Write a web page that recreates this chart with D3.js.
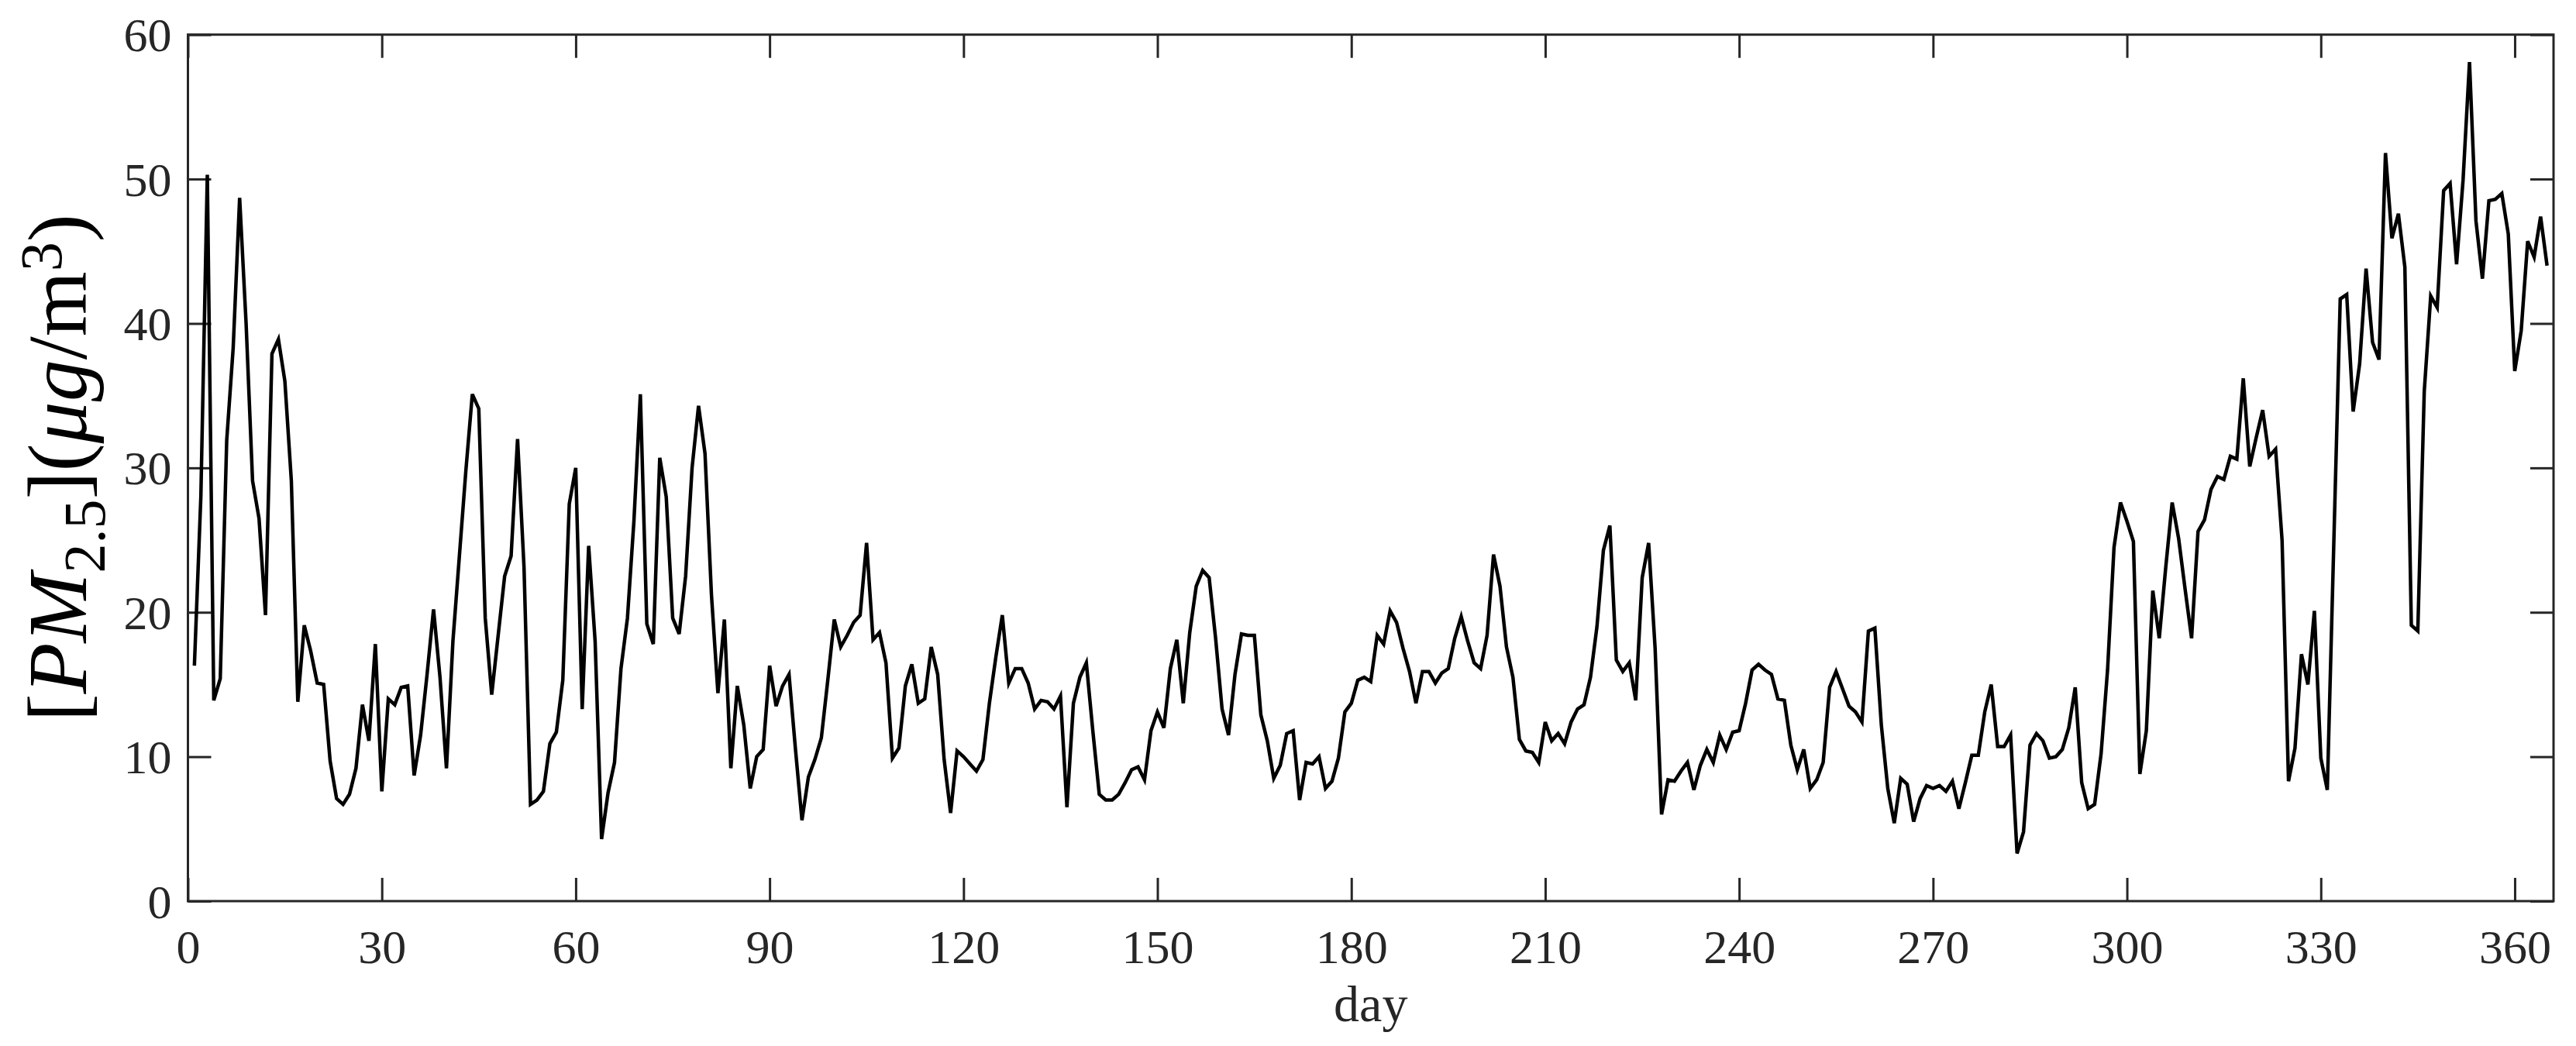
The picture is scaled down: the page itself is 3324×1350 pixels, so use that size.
<!DOCTYPE html>
<html>
<head>
<meta charset="utf-8">
<script src="https://cdn.jsdelivr.net/npm/d3@7"></script>
<style>
  body { margin: 0; background: #fff; }
  svg { display: block; }
</style>
</head>
<body>
<svg id="chart"></svg>
<script>
// daily PM2.5 values, day 1 .. day 365
const pm25 = [
  16.3, 28.0, 50.3, 13.9, 15.4, 31.9, 38.3, 48.7, 40.0, 29.1,
  26.5, 19.8, 37.9, 38.9, 36.0, 29.1, 13.8, 19.1, 17.3, 15.1,
  15.0, 9.7, 7.1, 6.7, 7.4, 9.2, 13.6, 11.1, 17.8, 7.6,
  14.0, 13.6, 14.8, 14.9, 8.7, 11.5, 15.7, 20.2, 15.5, 9.2,
  18.0, 23.9, 29.8, 35.1, 34.1, 19.6, 14.3, 18.4, 22.5, 23.9,
  32.0, 23.1, 6.7, 7.0, 7.6, 10.9, 11.7, 15.3, 27.5, 30.0,
  13.3, 24.6, 18.0, 4.3, 7.5, 9.6, 16.1, 19.6, 26.3, 35.1,
  19.2, 17.8, 30.7, 28.0, 19.6, 18.5, 22.5, 30.0, 34.3, 31.0,
  21.2, 14.4, 19.5, 9.2, 14.9, 12.2, 7.8, 10.0, 10.5, 16.3,
  13.5, 14.9, 15.7, 10.5, 5.6, 8.6, 9.8, 11.3, 15.3, 19.5,
  17.6, 18.4, 19.3, 19.8, 24.8, 18.1, 18.6, 16.5, 9.9, 10.6,
  14.9, 16.4, 13.7, 14.0, 17.6, 15.7, 9.8, 6.1, 10.4, 10.0,
  9.5, 9.0, 9.8, 13.7, 16.9, 19.8, 15.1, 16.1, 16.1, 15.1,
  13.3, 13.9, 13.8, 13.3, 14.2, 6.5, 13.7, 15.5, 16.5, 11.8,
  7.4, 7.0, 7.0, 7.4, 8.2, 9.1, 9.3, 8.4, 11.8, 13.1,
  12.0, 16.1, 18.1, 13.7, 18.6, 21.8, 22.9, 22.4, 18.2, 13.3,
  11.5, 15.7, 18.5, 18.4, 18.4, 12.9, 11.1, 8.5, 9.4, 11.6,
  11.8, 7.0, 9.6, 9.5, 10.0, 7.8, 8.3, 9.9, 13.1, 13.7,
  15.3, 15.5, 15.2, 18.4, 17.8, 20.1, 19.3, 17.5, 15.9, 13.7,
  15.9, 15.9, 15.1, 15.8, 16.1, 18.2, 19.7, 18.0, 16.5, 16.1,
  18.4, 24.0, 21.8, 17.6, 15.5, 11.2, 10.4, 10.3, 9.6, 12.4,
  11.1, 11.6, 10.9, 12.4, 13.3, 13.6, 15.5, 19.0, 24.3, 26.0,
  16.7, 15.9, 16.5, 13.9, 22.4, 24.8, 17.5, 6.0, 8.4, 8.3,
  9.0, 9.6, 7.7, 9.4, 10.5, 9.6, 11.5, 10.5, 11.7, 11.8,
  13.7, 16.0, 16.4, 16.0, 15.7, 14.0, 13.9, 10.8, 9.1, 10.5,
  7.8, 8.4, 9.6, 14.8, 15.9, 14.7, 13.5, 13.1, 12.4, 18.7,
  18.9, 12.2, 7.8, 5.4, 8.5, 8.1, 5.5, 7.1, 8.0, 7.8,
  8.0, 7.6, 8.3, 6.4, 8.2, 10.1, 10.1, 13.1, 15.0, 10.7,
  10.7, 11.5, 3.3, 4.8, 10.8, 11.6, 11.1, 9.9, 10.0, 10.5,
  12.0, 14.8, 8.2, 6.4, 6.7, 10.2, 16.0, 24.5, 27.6, 26.3,
  24.9, 8.8, 11.8, 21.5, 18.2, 23.1, 27.6, 25.1, 21.6, 18.2,
  25.6, 26.4, 28.5, 29.4, 29.2, 30.8, 30.6, 36.2, 30.1, 32.1,
  34.0, 30.8, 31.3, 25.0, 8.3, 10.6, 17.1, 15.0, 20.1, 9.9,
  7.7, 24.7, 41.7, 42.0, 33.9, 37.2, 43.8, 38.7, 37.5, 51.8,
  45.9, 47.6, 43.9, 19.1, 18.7, 35.3, 41.9, 41.1, 49.2, 49.7,
  44.1, 49.9, 58.1, 47.1, 43.1, 48.5, 48.6, 49.0, 46.2, 36.7,
  39.5, 45.7, 44.6, 47.4, 44.0
];
const days = pm25.map((v, i) => i + 1);

const xTicks = [0, 30, 60, 90, 120, 150, 180, 210, 240, 270, 300, 330, 360];
const yTicks = [0, 10, 20, 30, 40, 50, 60];
const xDomain = [0, 366];
const yDomain = [0, 60];

const width = 3324,
      height = 1350,
      plotLeft = 242.5,
      plotRight = 3295,
      plotTop = 44.7,
      plotBottom = 1163,
      axisColor = "#262626",
      font = "'Liberation Serif', 'Times New Roman', serif";

const svg = d3.select("#chart")
    .attr("width", width)
    .attr("height", height)
    .style("font-family", font);

const x = d3.scaleLinear().domain(xDomain).range([plotLeft, plotRight]);
const y = d3.scaleLinear().domain(yDomain).range([plotBottom, plotTop]);

// ticks point inwards on all four sides (matlab box style)
const tickLen = 30;

const gx = svg.append("g")
    .attr("transform", `translate(0,${plotBottom})`)
    .call(d3.axisBottom(x).tickValues(xTicks).tickSize(-tickLen).tickPadding(38));
svg.append("g")
    .attr("transform", `translate(0,${plotTop})`)
    .call(d3.axisTop(x).tickValues(xTicks).tickSize(-tickLen).tickFormat(""));
const gy = svg.append("g")
    .attr("transform", `translate(${plotLeft},0)`)
    .call(d3.axisLeft(y).tickValues(yTicks).tickSize(-tickLen).tickPadding(21));
svg.append("g")
    .attr("transform", `translate(${plotRight},0)`)
    .call(d3.axisRight(y).tickValues(yTicks).tickSize(-tickLen).tickFormat(""));

svg.selectAll(".domain").remove();
svg.selectAll(".tick line")
    .attr("stroke", axisColor)
    .attr("stroke-width", 3);
svg.selectAll(".tick text")
    .attr("fill", axisColor)
    .style("font-family", font)
    .style("font-size", "62px");
gy.selectAll(".tick text").attr("dy", "0.34em");
gx.selectAll(".tick text").attr("dy", "0.68em");

const line = d3.line()
    .x((d, i) => x(days[i]))
    .y((d) => y(d));

svg.append("path")
    .datum(pm25)
    .attr("fill", "none")
    .attr("stroke", "#000")
    .attr("stroke-width", 4.5)
    .attr("stroke-linejoin", "miter")
    .attr("d", line);

// axes box
svg.append("rect")
    .attr("x", plotLeft)
    .attr("y", plotTop)
    .attr("width", plotRight - plotLeft)
    .attr("height", plotBottom - plotTop)
    .attr("fill", "none")
    .attr("stroke", axisColor)
    .attr("stroke-width", 3);

svg.append("text")
    .attr("x", (plotLeft + plotRight) / 2)
    .attr("y", 1318)
    .attr("text-anchor", "middle")
    .attr("fill", axisColor)
    .style("font-size", "66px")
    .text("day");

// [PM_2.5](μg/m^3)
const ylab = svg.append("text")
    .attr("transform", `translate(111,${(plotTop + plotBottom) / 2}) rotate(-90)`)
    .attr("text-anchor", "middle")
    .attr("fill", "#000")
    .style("font-size", "108px");
ylab.append("tspan").text("[");
ylab.append("tspan").style("font-style", "italic").text("PM");
ylab.append("tspan").attr("dy", 24).style("font-size", "76px").text("2.5");
ylab.append("tspan").attr("dy", -24).text("](");
ylab.append("tspan").style("font-style", "italic").text("μg");
ylab.append("tspan").text("/m");
ylab.append("tspan").attr("dy", -32).style("font-size", "76px").text("3");
ylab.append("tspan").attr("dy", 32).text(")");
</script>
</body>
</html>
